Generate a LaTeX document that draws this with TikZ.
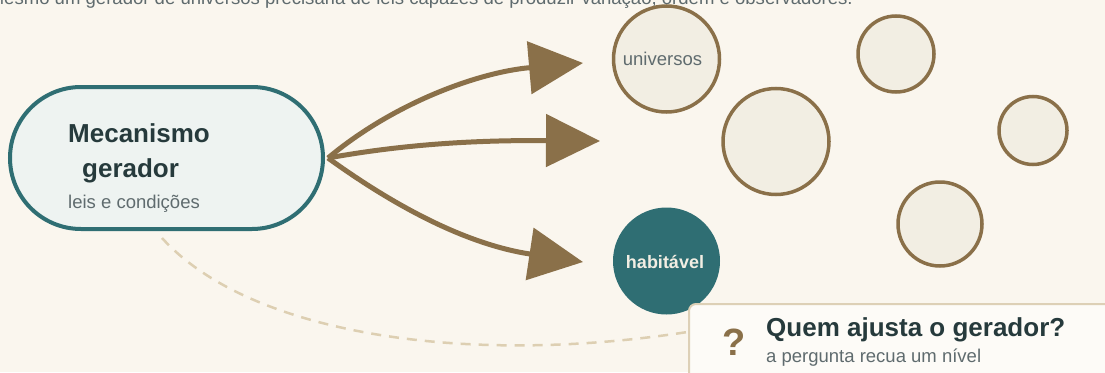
\documentclass[tikz,border=0pt]{standalone}
\usepackage{fontspec}
\setmainfont{Liberation Sans}
\usetikzlibrary{arrows.meta,shapes.misc}
\definecolor{bg}{HTML}{FAF6EE}
\definecolor{teal}{HTML}{2F6E73}
\definecolor{pillfill}{HTML}{EEF3F1}
\definecolor{darktext}{HTML}{263A3C}
\definecolor{graytext}{HTML}{5F6B6E}
\definecolor{brown}{HTML}{8A7049}
\definecolor{cfill}{HTML}{F2EEE3}
\definecolor{dashc}{HTML}{DDCFB2}
\definecolor{boxfill}{HTML}{FDFBF7}
\definecolor{boxline}{HTML}{DDD0B6}
\tikzset{
  title/.style={font=\fontsize{26}{30}\selectfont\bfseries, text=darktext, inner sep=0pt},
  sub/.style={font=\fontsize{18.5}{22}\selectfont, text=graytext, inner sep=0pt},
  universe/.style={circle, draw=brown, fill=cfill, line width=3.5pt, inner sep=0pt},
  flow/.style={draw=brown, line width=5pt, -{Triangle[length=54pt,width=52pt]}},
}
\begin{document}
\begin{tikzpicture}[x=1pt,y=-1pt]
\useasboundingbox (0,0) rectangle (1105,372);
\clip (0,0) rectangle (1105,372);
\fill[bg] (0,0) rectangle (1105,372);

\node[sub, font=\fontsize{18.55}{22}\selectfont, anchor=base east] (caption) at (853,5) {Mesmo um gerador de universos precisaria de leis capazes de produzir variação, ordem e observadores.};

% dashed return path
\coordinate (dstart) at (162,238);
\coordinate (dend) at (700,330);
\draw[dashc, line width=2.5pt, dash pattern=on 10pt off 8pt] (dstart) .. controls (250,335) and (470,368) .. (dend);

% generator pill
\node[rounded rectangle, draw=teal, fill=pillfill, line width=4pt, minimum width=313pt, minimum height=142pt, inner sep=0pt] (gen) at (166.5,158) {};
\node[title, anchor=base west] (t1) at (68,142) {Mecanismo};
\node[title, anchor=base west] (t2) at (82,177) {gerador};
\node[sub, anchor=base west] (t3) at (68,208) {leis e condições};

% universes
\node[universe, minimum size=106pt] (u1) at (666.5,59) {};
\node[sub, anchor=base] (u1t) at (662.5,65) {universos};
\node[universe, minimum size=76pt] (u2) at (896,54) {};
\node[universe, minimum size=106pt] (u3) at (776,141.5) {};
\node[universe, minimum size=68pt] (u4) at (1033,130.5) {};
\node[universe, minimum size=84pt] (u5) at (940,224) {};
\node[circle, fill=teal, minimum size=107pt, inner sep=0pt] (hab) at (666.5,261) {};
\node[font=\fontsize{18}{22}\selectfont\bfseries, text=cfill, anchor=base, inner sep=0pt] (habt) at (665,268) {habitável};

% arrows
\coordinate (e1) at (583,63);
\coordinate (e2) at (600,141);
\coordinate (e3) at (583,262);
\coordinate (src) at (328,158);
\draw[flow] (src) .. controls (395,102) and (480,72) .. (e1);
\draw[flow] (src) .. controls (400,145) and (470,140) .. (e2);
\draw[flow] (src) .. controls (400,210) and (470,245) .. (e3);

% question box
\node[draw=boxline, fill=boxfill, line width=2pt, rounded corners=7pt, minimum width=440pt, minimum height=90pt, anchor=north west, inner sep=0pt] (qbox) at (688,303) {};
\node[font=\fontsize{38}{40}\selectfont\bfseries, text=brown, anchor=base, inner sep=0pt] (qmark) at (734,355) {?};
\node[title, anchor=base west] (qt) at (766,336) {Quem ajusta o gerador?};
\node[sub, anchor=base west] (qs) at (766,362) {a pergunta recua um nível};
\end{tikzpicture}
\end{document}
